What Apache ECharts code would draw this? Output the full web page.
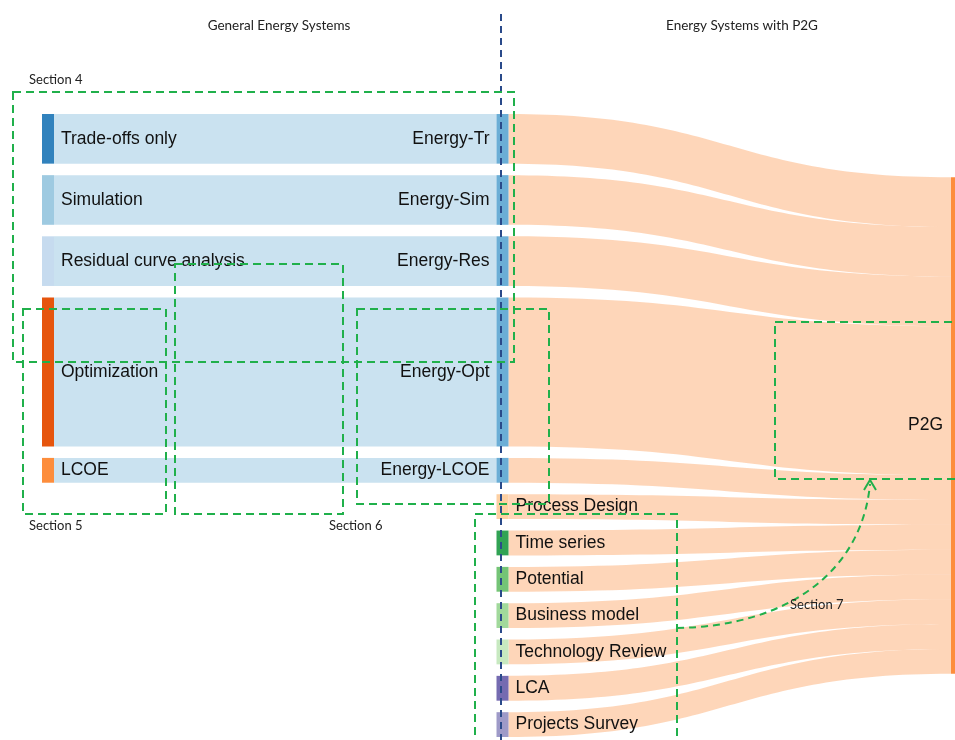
<!DOCTYPE html>
<html>
<head>
<meta charset="utf-8">
<script src="https://cdn.jsdelivr.net/npm/echarts@6/dist/echarts.min.js"></script>
<style>
html,body{margin:0;padding:0;background:#fff;}
#chart{width:955px;height:740px;}
</style>
</head>
<body>
<div id="chart"></div>
<script>
// ---- data ----
const methodNodes = ['Trade-offs only', 'Simulation', 'Residual curve analysis', 'Optimization', 'LCOE'];
const energyNodes = ['Energy-Tr', 'Energy-Sim', 'Energy-Res', 'Energy-Opt', 'Energy-LCOE'];
const methodValues = [2, 2, 2, 6, 1];
const p2gTopics = ['Process Design', 'Time series', 'Potential', 'Business model', 'Technology Review', 'LCA', 'Projects Survey'];
const p2gTopicValues = [1, 1, 1, 1, 1, 1, 1];
const sinkNode = 'P2G';
const headerTitles = ['General Energy Systems', 'Energy Systems with P2G'];
const sectionLabels = ['Section 4', 'Section 5', 'Section 6', 'Section 7'];

// ---- styles ----
const methodColors = ['#3182bd', '#9ecae1', '#c6dbef', '#e6550d', '#fd8d3c'];
const energyColor = '#6baed6';
const topicColors = ['#fdd0a2', '#31a354', '#74c476', '#a1d99b', '#c7e9c0', '#756bb1', '#9e9ac8'];
const sinkColor = '#fd8d3c';

const labelBase = { fontFamily: 'Liberation Sans, Arial, sans-serif', fontSize: 17.5, color: '#111' };

function buildNodes(sinkLocalY) {
  const nodes = [];
  methodNodes.forEach((n, i) => nodes.push({ name: n, itemStyle: { color: methodColors[i] }, label: Object.assign({ position: 'right', distance: 7 }, labelBase) }));
  energyNodes.forEach((n) => nodes.push({ name: n, itemStyle: { color: energyColor }, label: Object.assign({ position: 'left', distance: 7 }, labelBase) }));
  p2gTopics.forEach((n, i) => nodes.push({ name: n, itemStyle: { color: topicColors[i] }, label: Object.assign({ position: 'right', distance: 7 }, labelBase) }));
  const sink = { name: sinkNode, itemStyle: { color: sinkColor }, label: Object.assign({ position: 'left', distance: 8 }, labelBase) };
  if (sinkLocalY != null) sink.localY = sinkLocalY;
  nodes.push(sink);
  return nodes;
}

const links = [];
methodNodes.forEach((n, i) => links.push({ source: n, target: energyNodes[i], value: methodValues[i] }));
energyNodes.forEach((n, i) => links.push({ source: n, target: sinkNode, value: methodValues[i] }));
p2gTopics.forEach((n, i) => links.push({ source: n, target: sinkNode, value: p2gTopicValues[i] }));

// ---- annotation graphics ----
const green = '#20b04b';
const dash = [8, 5];
function dashedRect(x, y, w, h) {
  return { type: 'rect', z: 100, silent: true, shape: { x: x, y: y, width: w, height: h },
    style: { fill: 'none', stroke: green, lineWidth: 2, lineDash: dash } };
}
function txt(t, x, y, size, align) {
  return { type: 'text', z: 101, silent: true, x: x, y: y,
    style: { text: t, fill: '#222', font: size + 'px Lato, "Open Sans", sans-serif', textAlign: align || 'left', textVerticalAlign: 'middle' } };
}

const graphics = [
  txt(headerTitles[0], 279, 26, 13.5, 'center'),
  txt(headerTitles[1], 742, 26, 13.5, 'center'),
  { type: 'line', z: 99, silent: true, shape: { x1: 501, y1: 14, x2: 501, y2: 742 },
    style: { stroke: '#2a4a8a', lineWidth: 2, lineDash: [7, 5] } },
  dashedRect(13, 92, 501, 270),
  dashedRect(23, 309, 143, 205),
  dashedRect(175, 264, 168, 250),
  dashedRect(357, 309, 192, 195),
  dashedRect(775, 322, 200, 157),
  dashedRect(475, 514, 202, 240),
  { type: 'bezierCurve', z: 100, silent: true,
    shape: { x1: 677, y1: 628, cpx1: 790, cpy1: 626, cpx2: 862, cpy2: 570, x2: 870, y2: 484 },
    style: { fill: 'none', stroke: green, lineWidth: 2, lineDash: [7, 5] } },
  { type: 'polyline', z: 100, silent: true, shape: { points: [[864, 490], [870, 480], [876, 490]] },
    style: { fill: 'none', stroke: green, lineWidth: 2 } },
  txt(sectionLabels[0], 29, 80, 13),
  txt(sectionLabels[1], 29, 526, 13),
  txt(sectionLabels[2], 329, 526, 13),
  txt(sectionLabels[3], 790, 605, 13)
];

const SERIES_H = 623;
function makeOption(sinkLocalY) {
  return {
    animation: false,
    backgroundColor: '#fff',
    series: [{
      type: 'sankey',
      left: 42, top: 114, width: 921, height: SERIES_H,
      nodeWidth: 12,
      nodeGap: 11.5,
      nodeAlign: 'right',
      layoutIterations: 0,
      draggable: false,
      emphasis: { disabled: true },
      data: buildNodes(sinkLocalY),
      links: links,
      lineStyle: { color: 'target', opacity: 0.36, curveness: 0.5 },
      itemStyle: { borderWidth: 0 }
    }],
    graphic: graphics
  };
}

const chart = echarts.init(document.getElementById('chart'), null, { renderer: 'canvas' });
chart.setOption(makeOption(null));
// centre the sink node vertically within the layout area, using the height the library computed for it
try {
  const graph = chart.getModel().getSeriesByIndex(0).getGraph();
  const sink = graph.getNodeById ? graph.getNodeById(sinkNode) : null;
  let dy = null;
  if (sink) dy = sink.getLayout().dy;
  if (dy == null) {
    graph.eachNode(function (n) { if (n.id === sinkNode || n.name === sinkNode) dy = n.getLayout().dy; });
  }
  if (dy != null) {
    chart.setOption(makeOption((SERIES_H - dy) / 2 / SERIES_H), true);
  }
} catch (e) { console.error(e); }
</script>
</body>
</html>
